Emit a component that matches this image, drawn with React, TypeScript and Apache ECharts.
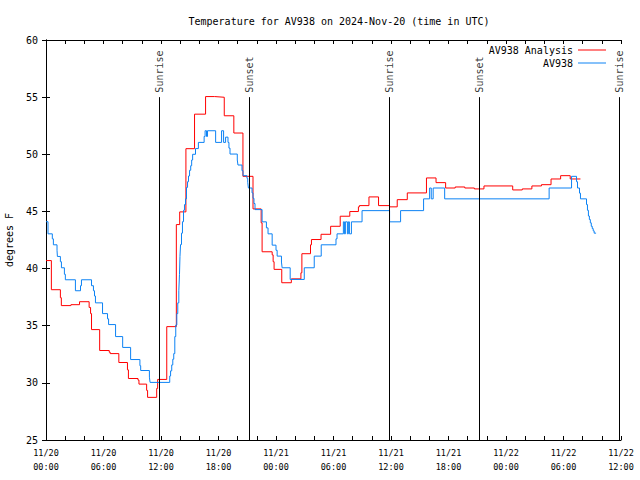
import React, { useEffect, useRef } from "react";
import * as echarts from "echarts";

const FONT = "DejaVu Sans Mono";
const TITLE = "Temperature for AV938 on 2024-Nov-20 (time in UTC)";

// hours since 2024-11-20 00:00 UTC, tick labels every 6 h
const xTickLabels = [
  "11/20\n00:00", "11/20\n06:00", "11/20\n12:00", "11/20\n18:00",
  "11/21\n00:00", "11/21\n06:00", "11/21\n12:00", "11/21\n18:00",
  "11/22\n00:00", "11/22\n06:00", "11/22\n12:00",
];

const sunEventNames = ["Sunrise", "Sunset", "Sunrise", "Sunset", "Sunrise"];
const sunEventHours = [11.83, 21.22, 35.84, 45.23, 59.85];

// [hour, degrees F] — value holds from this hour until the next point
const analysisTemps: number[][] = [
  [0, 40.7], [0.56, 38.15], [1.5, 37.45], [1.6, 36.76], [2.6, 36.84],
  [3.5, 37.1], [4.5, 36.6], [4.65, 36.06], [4.75, 34.66], [5.6, 32.83],
  [6.6, 32.68], [6.7, 32.56], [7.6, 31.78], [8.5, 31.14], [8.6, 30.38],
  [9.6, 30.24], [9.7, 29.89], [10.5, 29.34], [10.6, 28.73], [11.55, 29.51],
  [11.65, 30.3], [12.6, 34.92], [13.6, 43.85], [13.95, 44.96], [14.6, 50.49],
  [15.5, 53.51], [16.65, 55.05], [17.6, 54.99], [18.6, 53.37], [19.6, 51.86],
  [20.55, 48.07], [21.6, 45.22], [22.45, 44.0], [22.55, 41.47], [23.6, 41.2],
  [23.7, 40.6], [23.8, 39.93], [24.6, 38.76], [25.6, 39.1], [26.6, 39.63],
  [26.7, 41.3], [27.6, 42.08], [27.7, 42.54], [28.7, 43.0], [29.7, 43.7],
  [30.7, 44.58], [31.7, 44.99], [32.6, 45.4], [32.7, 45.51], [33.7, 46.27],
  [34.7, 45.51], [35.85, 45.4], [36.65, 46.03], [37.7, 46.62], [39.7, 47.93],
  [40.7, 47.52], [41.7, 47.05], [42.7, 47.14], [43.7, 47.05], [44.7, 46.97],
  [45.7, 47.23], [48.7, 46.88], [49.7, 46.97], [50.7, 47.23], [51.7, 47.34],
  [52.7, 47.84], [53.7, 48.13], [54.7, 47.84], [55.77, 47.84],
];

const observedTemps: number[][] = [
  [0, 44.1], [0.21, 43.04], [0.66, 42.6], [0.77, 42.08], [1.15, 41.6],
  [1.19, 41.06], [1.5, 40.6], [1.61, 40.07], [1.92, 39.5], [2.02, 39.02],
  [3.07, 38.06], [3.6, 38.5], [3.7, 39.02], [4.75, 38.5], [4.95, 38.06],
  [5.06, 37.6], [5.16, 37.0], [5.9, 36.06], [6.42, 35.6], [6.53, 35.1],
  [7.26, 34.05], [8.0, 33.1], [8.83, 32.04], [9.8, 31.5], [9.88, 31.08],
  [10.79, 30.5], [10.86, 30.04], [12.91, 30.6], [13.0, 31.05], [13.12, 31.57],
  [13.23, 32.07], [13.33, 32.56], [13.44, 34.05], [13.54, 35.06], [13.65, 36.06],
  [13.75, 37.0], [13.86, 38.06], [13.93, 39.5], [13.98, 41.06], [14.04, 42.1],
  [14.14, 43.1], [14.24, 44.1], [14.35, 45.1], [14.45, 45.6], [14.56, 46.1],
  [14.66, 47.1], [14.77, 47.6], [14.87, 48.1], [14.98, 48.6], [15.1, 49.0],
  [15.2, 49.5], [15.3, 50.0], [15.6, 50.5], [15.9, 51.04], [16.5, 51.56],
  [16.6, 52.06], [16.75, 51.56], [16.85, 52.06], [17.7, 51.04], [18.32, 52.06],
  [18.53, 51.04], [18.74, 51.5], [18.99, 51.04], [19.09, 50.54], [19.2, 50.02],
  [19.96, 49.5], [20.03, 49.06], [20.45, 48.57], [20.56, 48.13], [20.97, 47.9],
  [21.05, 47.55], [21.12, 47.05], [21.5, 46.62], [21.6, 46.15], [21.7, 45.69],
  [21.81, 45.16], [22.55, 44.09], [23.0, 43.56], [23.17, 43.04], [23.6, 42.05],
  [24.0, 41.6], [24.12, 41.09], [24.57, 40.57], [24.64, 40.07], [25.48, 39.05],
  [26.95, 40.07], [27.99, 41.09], [28.72, 42.08], [30.26, 42.6], [30.37, 43.04],
  [31.03, 44.09], [31.14, 43.04], [31.24, 44.09], [31.45, 43.04], [31.55, 44.09],
  [31.66, 43.04], [31.87, 44.09], [32.98, 45.07], [35.85, 44.09], [37.0, 45.07],
  [39.4, 46.1], [40.03, 47.05], [40.2, 46.1], [40.4, 47.05], [41.6, 46.1],
  [52.5, 47.05], [54.84, 48.07], [55.36, 47.6], [55.46, 47.05], [55.67, 46.6],
  [55.77, 46.1], [56.4, 45.6], [56.5, 45.1], [56.6, 44.6], [56.7, 44.29],
  [56.8, 44.0], [56.9, 43.7], [57.0, 43.5], [57.1, 43.3], [57.2, 43.1],
  [57.4, 43.1],
];

const RED = "#ff0000";
const BLUE = "#0c82f4";

export default function App() {
  const ref = useRef<HTMLDivElement>(null);

  useEffect(() => {
    if (!ref.current) return;
    const chart = echarts.init(ref.current, undefined, { renderer: "svg" });
    const axisBase = {
      type: "value",
      axisLine: { show: true, lineStyle: { color: "#000", width: 1 } },
      axisTick: { show: true, inside: true, length: 4, lineStyle: { color: "#000" } },
      splitLine: { show: false },
    };
    const legendText = { fontFamily: FONT, fontSize: 10, color: "#000" };
    const option = {
      animation: false,
      backgroundColor: "#ffffff",
      textStyle: { fontFamily: FONT },
      title: {
        text: TITLE,
        left: 334,
        top: 11,
        textAlign: "center",
        textStyle: { fontFamily: FONT, fontSize: 10, fontWeight: "normal", color: "#000" },
      },
      legend: [
        {
          data: ["AV938 Analysis"], right: 29, top: 40, align: "right", orient: "vertical",
          icon: "rect", itemWidth: 28, itemHeight: 1, selectedMode: false, textStyle: legendText,
        },
        {
          data: ["AV938"], right: 29, top: 53, align: "right", orient: "vertical",
          icon: "rect", itemWidth: 28, itemHeight: 1, selectedMode: false, textStyle: legendText,
        },
      ],
      grid: { left: 46, right: 19, top: 40, bottom: 40, containLabel: false, outerBoundsMode: "none" },
      xAxis: [
        {
          ...axisBase, position: "bottom", min: 0, max: 60, interval: 2,
          axisLabel: {
            show: true, margin: 6, color: "#000", fontFamily: FONT, fontSize: 8.5, lineHeight: 14,
            hideOverlap: false,
            formatter: (v: number) => (Math.round(v) % 6 === 0 ? xTickLabels[Math.round(v) / 6] : ""),
          },
        },
        { ...axisBase, position: "top", min: 0, max: 60, interval: 2, axisLabel: { show: false } },
      ],
      yAxis: [
        {
          ...axisBase, position: "left", min: 25, max: 60, interval: 5,
          name: "degrees F", nameLocation: "middle", nameGap: 32, nameRotate: 90,
          nameTextStyle: { fontFamily: FONT, fontSize: 10, color: "#000" },
          axisLabel: { show: true, margin: 8, color: "#000", fontFamily: FONT, fontSize: 10 },
        },
        { ...axisBase, position: "right", min: 25, max: 60, interval: 5, axisLabel: { show: false } },
      ],
      series: [
        {
          name: "AV938 Analysis", type: "line", step: "end", symbol: "none",
          data: analysisTemps, color: RED, lineStyle: { color: RED, width: 1 },
          xAxisIndex: 0, yAxisIndex: 0,
        },
        {
          name: "AV938", type: "line", step: "end", symbol: "none",
          data: observedTemps, color: BLUE, lineStyle: { color: BLUE, width: 1 },
          xAxisIndex: 0, yAxisIndex: 0,
        },
        {
          name: "sun", type: "scatter", symbolSize: 1, silent: true,
          itemStyle: { color: "rgba(0,0,0,0)" },
          data: sunEventHours.map((h, i) => [h, 55, sunEventNames[i]]),
          label: {
            show: true, position: "top", distance: 4, rotate: 90, align: "left", verticalAlign: "middle",
            color: "#000", fontFamily: FONT, fontSize: 10,
            formatter: (p: any) => p.data[2],
          },
          markLine: {
            silent: true, symbol: ["none", "none"], label: { show: false },
            lineStyle: { color: "#000", width: 1, type: "solid" },
            emphasis: { disabled: true },
            data: sunEventHours.map((h) => [{ coord: [h, 25] }, { coord: [h, 55] }]),
          },
        },
      ],
    };
    chart.setOption(option as any);
    return () => chart.dispose();
  }, []);

  return (
    <div
      ref={ref}
      style={{ position: "absolute", left: 0, top: 0, width: 640, height: 480, background: "#fff" }}
    />
  );
}
